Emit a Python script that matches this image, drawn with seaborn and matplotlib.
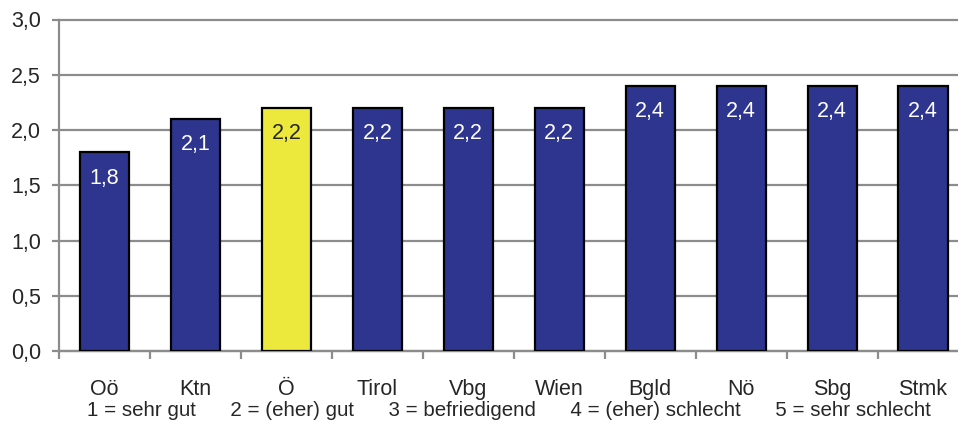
import matplotlib
matplotlib.use("Agg")
import matplotlib.pyplot as plt
import seaborn as sns
import pandas as pd
import numpy as np

# Average school grades per federal state
regions = ["Oö", "Ktn", "Ö", "Tirol", "Vbg", "Wien", "Bgld", "Nö", "Sbg", "Stmk"]
grades = [1.8, 2.1, 2.2, 2.2, 2.2, 2.2, 2.4, 2.4, 2.4, 2.4]
highlight = "Ö"
scale_note = ("1 = sehr gut      2 = (eher) gut      3 = befriedigend      "
              "4 = (eher) schlecht      5 = sehr schlecht")

navy = "#2E358F"
yellow = "#EDE83C"
grid_gray = "#8C8C8C"
text_col = "#262626"

df = pd.DataFrame({"region": regions, "grade": grades})
df["kind"] = np.where(df["region"] == highlight, "total", "state")

sns.set_style("white")
plt.rcParams["font.family"] = ["Liberation Sans", "DejaVu Sans"]

fig = plt.figure(figsize=(9.58, 4.21), dpi=100)
W, H = 958, 421
x0, x1, ytop, ybot = 59, 968.5, 19.5, 351
ax = fig.add_axes([x0 / W, 1 - ybot / H, (x1 - x0) / W, (ybot - ytop) / H])

sns.barplot(data=df, x="region", y="grade", hue="kind",
            palette={"state": navy, "total": yellow}, saturation=1,
            order=regions, dodge=False, width=0.54, legend=False,
            edgecolor="black", linewidth=1.6, zorder=3, ax=ax)

ax.set_ylim(0, 3.0)
ax.set_xlim(-0.5, len(regions) - 0.5)
yt = np.arange(0, 3.01, 0.5)
ax.set_yticks(yt)
ax.set_yticklabels([f"{v:.1f}".replace(".", ",") for v in yt])
ax.yaxis.grid(True, color=grid_gray, linewidth=1.6, zorder=0)
for gl in ax.get_ygridlines():
    gl.set_clip_on(False)
ax.set_axisbelow(True)

for side in ("top", "right"):
    ax.spines[side].set_visible(False)
for side in ("left", "bottom"):
    ax.spines[side].set_color(grid_gray)
    ax.spines[side].set_linewidth(1.6)

# Category labels centred, tick marks between categories
ax.set_xticks(range(len(regions)))
ax.set_xticklabels(regions)
ax.tick_params(axis="x", which="major", bottom=True, length=0, pad=20,
               labelsize=15.5, labelcolor=text_col)
ax.set_xticks(np.arange(-0.5, len(regions), 1), minor=True)
ax.tick_params(axis="x", which="minor", bottom=True, length=6, width=1.6,
               color=grid_gray, direction="out")
ax.tick_params(axis="y", left=True, length=5, width=1.6, color=grid_gray,
               labelsize=15.5, labelcolor=text_col, pad=8)
ax.set_xlabel("")
ax.set_ylabel("")

# Value labels inside the bar tops
for i, (r, g) in enumerate(zip(regions, grades)):
    col = text_col if r == highlight else "white"
    ax.annotate(f"{g:.1f}".replace(".", ","), (i, g), xytext=(0, -26),
                textcoords="offset pixels",
                ha="center", va="center", fontsize=15.5, color=col, zorder=5)

fig.text(508.5 / W, 1 - 410 / H, scale_note, ha="center", va="center",
         fontsize=14.8, color=text_col)

fig.savefig("out.png", dpi=100)
